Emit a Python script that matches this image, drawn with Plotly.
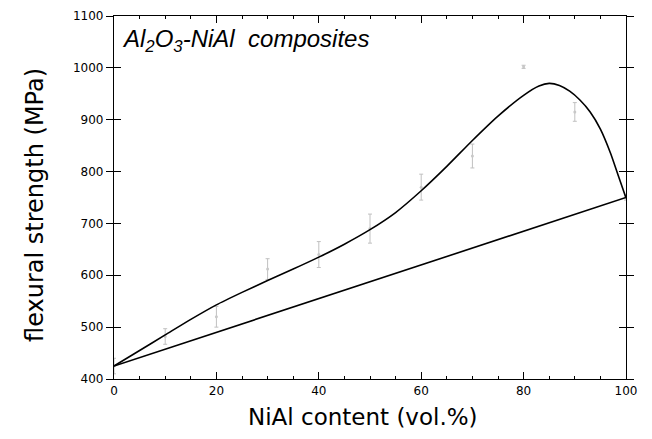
import plotly.graph_objects as go

# Measured data (NiAl content vol.%, flexural strength MPa)
data_x = [0, 10, 20, 30, 40, 50, 60, 70, 80, 90, 100]
data_y = [425, 482, 520, 612, 640, 690, 770, 830, 1002, 915, 750]
data_err = [15, 15, 20, 20, 25, 28, 25, 23, 3, 18, 5]

# Fitted (upper) curve
fit_x = [0, 5, 10, 15, 20, 25, 30, 35, 40, 45, 50, 55, 60, 65, 70, 75, 80, 83, 85, 87, 89, 91, 93, 95, 97, 98.5, 100]
fit_y = [425, 455, 485, 515, 543, 567, 590, 612, 635, 660, 688, 721, 763, 810, 860, 907, 947, 965, 970, 966, 955, 938, 915, 882, 835, 792, 749]

# Rule of mixtures line
rom_x = [0, 100]
rom_y = [425, 750]

x_ticks = [0, 20, 40, 60, 80, 100]
y_ticks = [400, 500, 600, 700, 800, 900, 1000, 1100]

x_title = "NiAl content (vol.%)"
y_title = "flexural strength (MPa)"
label = "<i>Al<sub>2</sub>O<sub>3</sub>-NiAl\u00a0\u00a0composites</i>"

tick_font = dict(family="DejaVu Sans", size=12, color="black")

fig = go.Figure()

fig.add_trace(go.Scatter(
    x=data_x, y=data_y, mode="markers",
    marker=dict(size=3, color="#c8c8c8"),
    error_y=dict(type="data", array=data_err, color="#c0c0c0", thickness=1, width=2),
    showlegend=False, hoverinfo="skip"))

fig.add_trace(go.Scatter(
    x=rom_x, y=rom_y, mode="lines",
    line=dict(color="black", width=1.6),
    showlegend=False))

fig.add_trace(go.Scatter(
    x=fit_x, y=fit_y, mode="lines",
    line=dict(color="black", width=1.6, shape="spline", smoothing=0.6),
    showlegend=False))

# invisible trace to activate the crossing-tick overlay axis
fig.add_trace(go.Scatter(x=[None], y=[None], yaxis="y2", showlegend=False, hoverinfo="skip"))

fig.update_layout(
    width=644, height=431,
    margin=dict(l=106, r=26, t=8, b=60),
    paper_bgcolor="white", plot_bgcolor="white",
    xaxis=dict(
        range=[0, 100], tickvals=x_ticks, ticktext=[str(v) for v in x_ticks],
        ticks="inside", ticklen=7, tickwidth=1, tickcolor="black",
        minor=dict(dtick=5, ticks="inside", ticklen=3, tickcolor="black"),
        showline=True, linecolor="black", linewidth=1.2, mirror="ticks",
        showgrid=False, zeroline=False, tickfont=tick_font, automargin=False,
    ),
    yaxis=dict(
        range=[400, 1100], tickvals=y_ticks, ticktext=[str(v) for v in y_ticks],
        ticks="outside", ticklen=7, tickwidth=1, tickcolor="black",
        showline=True, linecolor="black", linewidth=1.2, mirror="ticks",
        showgrid=False, zeroline=False, tickfont=tick_font, automargin=False,
    ),
    yaxis2=dict(
        range=[400, 1100], overlaying="y", side="left", tickvals=y_ticks,
        ticks="inside", ticklen=7, tickwidth=1, tickcolor="black",
        showticklabels=False, showline=False, mirror="ticks",
        showgrid=False, zeroline=False, automargin=False,
    ),
    annotations=[
        dict(x=0.012, y=0.98, xref="paper", yref="paper", xanchor="left", yanchor="top",
             text=label, showarrow=False,
             font=dict(family="Liberation Sans", size=24, color="black")),
        dict(x=0.487, y=-0.105, xref="paper", yref="paper", xanchor="center", yanchor="middle",
             text=x_title, showarrow=False,
             font=dict(family="DejaVu Sans", size=23, color="black")),
        dict(x=-0.154, y=0.48, xref="paper", yref="paper", xanchor="center", yanchor="middle",
             text=y_title, showarrow=False, textangle=-90,
             font=dict(family="DejaVu Sans", size=24, color="black")),
    ],
)

fig.write_html("out.html")
